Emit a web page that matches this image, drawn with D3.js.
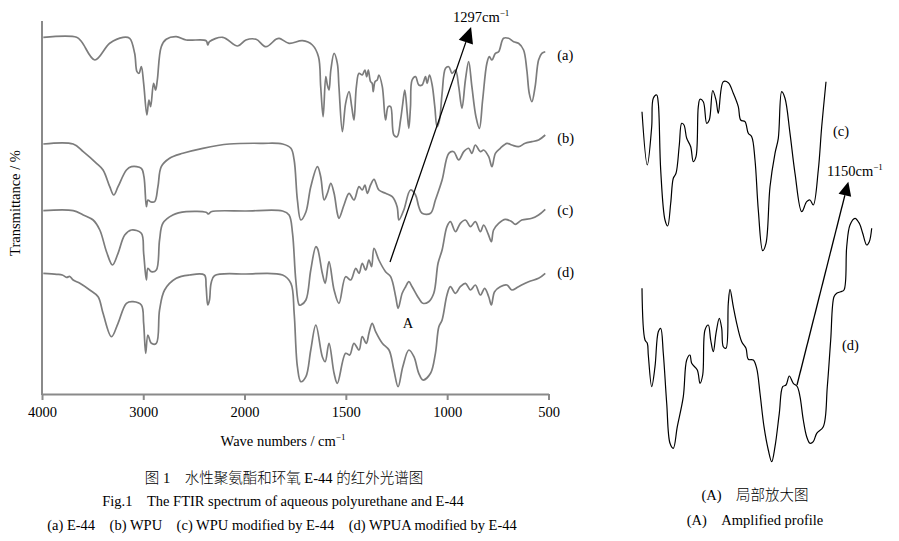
<!DOCTYPE html>
<html><head><meta charset="utf-8">
<script src="https://cdn.jsdelivr.net/npm/d3@7"></script>
<style>
html,body{margin:0;padding:0;background:#fff;}
svg{display:block;}
text{font-family:"Liberation Serif","Times New Roman","Noto Sans CJK SC",serif;fill:#000;white-space:pre;}
.cjk{font-weight:300;}
</style></head><body>
<svg id="chart" width="899" height="541"></svg>
<script>
// ---------- data (wavenumber cm-1, relative transmittance) ----------
const xTicks = [4000, 3000, 2000, 1500, 1000, 500];
const seriesNames = ["(a)", "(b)", "(c)", "(d)"];

const seriesA = [[3987,356.7],[3658,356.7],[3609,352.3],[3478,334],[3331,350.7],[3200,356.7],[3134,355.7],[3085,340.7],[3062,322.3],[3042,320.7],[3019,327.3],[2996,310.7],[2964,279],[2944,294],[2927,287.3],[2898,310.7],[2878,304],[2861,314],[2822,347.3],[2773,354.7],[2674,357.3],[2576,354],[2379,353.3],[2363,349],[2346,352.3],[2215,356.7],[2068,348],[1993,354],[1943,354.7],[1894,347.3],[1845,354.7],[1829,355.7],[1780,350.7],[1714,353.3],[1665,349],[1635,337.3],[1624,307.3],[1612,277.3],[1599,317.3],[1591,309],[1583,304],[1574,324],[1558,340.7],[1542,330.7],[1534,307.3],[1517,262.3],[1501,290.7],[1484,302.3],[1471,287.3],[1460,274],[1448,307.3],[1435,320.7],[1419,319],[1406,324],[1397,317.3],[1389,324],[1378,312.3],[1370,310.7],[1365,302.3],[1356,312.3],[1345,314],[1337,319],[1320,307.3],[1304,274],[1291,287.3],[1279,287.3],[1263,259],[1247,257.3],[1230,274],[1219,290.7],[1209,304],[1197,280.7],[1189,265.7],[1181,287.3],[1173,314],[1156,317.3],[1140,309],[1124,309],[1107,317.3],[1099,310.7],[1087,319],[1074,309],[1061,287.3],[1050,267.3],[1038,274],[1025,300.7],[1008,325.7],[992,327.3],[976,320.7],[959,324],[943,307.3],[927,285.7],[910,314],[894,332.3],[878,307.3],[858,277.3],[841,265.7],[825,294],[804,330.7],[792,337.3],[779,334],[762,340.7],[746,342.3],[722,355.7],[697,355.7],[672,352.3],[648,350.7],[623,344],[607,324],[595,300.7],[582,292.3],[566,307.3],[549,334],[533,340.7],[516,342.3]];

const seriesB = [[3987,250],[3692,250],[3593,242.3],[3462,230.7],[3397,224],[3331,207.3],[3291,199],[3249,207.3],[3166,224],[3117,227.3],[3019,225.7],[2993,217.3],[2969,187.3],[2954,194],[2930,192.3],[2888,192.3],[2855,207.3],[2822,227.3],[2740,235.7],[2609,240.7],[2412,245.7],[2150,250],[1911,250.7],[1812,250],[1771,245.7],[1755,234],[1739,194],[1722,174],[1697,182],[1673,207.3],[1640,227.3],[1624,217.3],[1607,194],[1591,200.7],[1574,210.7],[1558,200.7],[1542,180.7],[1534,175.7],[1509,189],[1484,200.7],[1460,194],[1435,207.3],[1419,204],[1406,209],[1394,200.7],[1378,209],[1361,214.7],[1337,204],[1304,200.7],[1271,197.3],[1247,187.3],[1238,174],[1214,184],[1181,204],[1156,199],[1140,187.3],[1124,180.7],[1082,180.7],[1058,194],[1025,214],[992,240.7],[968,242.3],[943,234],[918,242.3],[894,245.7],[878,240.7],[861,249],[836,242.3],[820,244],[795,237.3],[779,227.3],[762,240.7],[738,245.7],[705,250.7],[681,249],[648,247.3],[615,250.7],[582,252.3],[549,254],[516,259]];

const seriesC = [[3987,183.3],[3692,183.3],[3593,179],[3495,174],[3429,164],[3363,142.3],[3304,129],[3249,140.7],[3183,159],[3117,164],[3019,160.7],[2996,140.7],[2969,114],[2954,125.7],[2920,122.3],[2871,124],[2839,154],[2806,170.7],[2708,179],[2576,182.3],[2379,181.7],[2356,180],[2330,182.3],[1993,183],[1812,183],[1780,179],[1763,160.7],[1747,114],[1730,89],[1722,89],[1697,94],[1673,124],[1648,147.3],[1640,145.7],[1616,120.7],[1602,110.7],[1583,132.3],[1558,104],[1534,90.7],[1501,117.3],[1476,114],[1451,125.7],[1435,120.7],[1419,130.7],[1402,124],[1386,134],[1373,127.3],[1361,145.7],[1337,134],[1304,122.3],[1279,117.3],[1254,97.3],[1242,85.7],[1222,100.7],[1205,107.3],[1189,112.3],[1173,107.3],[1140,95.7],[1120,90.7],[1091,92.3],[1066,100.7],[1045,130.7],[1025,144],[1001,167.3],[984,172.3],[959,162.3],[935,170.7],[910,174],[885,167.3],[861,172.3],[836,162.3],[820,169],[799,160.7],[782,152.3],[771,164],[746,170.7],[713,174.7],[681,172.3],[664,169.7],[632,174],[582,175.7],[549,179],[516,184.7]];

const seriesD = [[3987,120.7],[3855,119.7],[3800,119],[3757,116.7],[3725,117.5],[3692,114],[3626,110.7],[3528,104],[3446,97.3],[3397,80.7],[3314,57.3],[3249,70.7],[3166,90.7],[3101,92.3],[3019,89],[2996,70.7],[2976,40.7],[2954,59],[2920,50.7],[2871,50.7],[2839,84],[2789,104],[2674,115.7],[2543,119],[2396,119],[2379,107.3],[2363,89],[2346,94],[2330,110.7],[2297,118.3],[1993,120],[1812,119],[1771,110.7],[1755,80.7],[1739,27.3],[1722,12.3],[1697,17.3],[1673,44],[1648,69],[1616,37.3],[1602,32.3],[1583,50.7],[1558,20.7],[1542,10.7],[1501,40.7],[1481,39],[1460,50.7],[1435,44],[1419,57.3],[1399,50.7],[1386,60.7],[1370,70.7],[1353,62.3],[1320,50.7],[1287,44],[1263,24],[1242,7.3],[1219,27.3],[1189,44],[1164,37.3],[1140,20.7],[1119,14],[1082,20.7],[1058,40.7],[1041,67.3],[1025,74],[1001,99],[984,107.3],[959,100.7],[935,107.3],[910,110.7],[885,104],[861,109],[836,99],[815,105.7],[795,97.3],[782,89],[766,102.3],[738,107.3],[705,109],[681,104],[648,107.3],[598,112.3],[549,115.7],[516,120.7]];

// amplified profile (region A), relative position / relative transmittance
const insetC = [[0,358.3],[5.3,305],[9.7,343.3],[11.3,371.7],[14.7,375],[16.3,366.7],[18.7,300],[23,250],[25.7,244],[28.7,266.7],[31.3,291.7],[34,296.7],[37.3,325],[39.7,346.7],[42,345],[44.7,331.7],[48.7,323.3],[51.3,308.3],[54,313.3],[56.3,363.3],[58,370.7],[61.3,368.3],[64.7,346.7],[67.3,350],[70.7,379.3],[74,370],[76.3,356.7],[81.3,388.3],[86.3,387.3],[91.3,376.7],[96.3,363.3],[98.7,350],[103,348.3],[106.3,336.7],[109.7,333.3],[113,310],[116.3,260],[120.7,219.3],[124,226.7],[128,283.3],[133,316.7],[136.3,331.7],[139.7,378.3],[143,371.7],[148,336.7],[153,296.7],[159.7,258.3],[164.7,268.3],[168,270],[171.3,265],[176.3,300],[179.7,343.3],[184,388.3]];

const insetD = [[0,181.7],[3,130],[5.3,126.7],[6.3,115],[9.7,83.3],[13,103.3],[16.3,138.3],[18.7,141.7],[21.3,116.7],[24.7,66.7],[28,26.7],[31.3,21.7],[35.3,43.3],[41.3,73.3],[44.7,110],[48,115],[49.7,106.7],[55.3,100],[58,86.7],[60.7,95],[63,140],[66.3,145],[68.7,130],[71.3,118.3],[74,136.7],[77.3,151.7],[79.7,141.7],[81.3,123.3],[84,121.7],[86.3,166.7],[88,180.7],[91.3,163.3],[94.7,146.7],[99.7,128.3],[104,121.7],[106.3,110.7],[111.3,110],[114.7,101.7],[118,76.7],[122,43.3],[126.3,20],[129.7,8.3],[133,23.3],[137.3,56.7],[140.7,83.3],[144,85],[147.3,94],[151.3,86.7],[155.3,83.3],[158,73.3],[161.3,50],[164.7,33.3],[168,26.7],[171.3,28.3],[174.7,36.7],[181.3,43.3],[185.3,83.3],[188.7,130],[192,173.3],[194.7,176.7],[198.7,178.3],[202,180],[204.7,223.3],[208,245],[213,251.7],[217.3,246.7],[220.7,236.7],[224.7,225],[227.3,228.3],[229.7,241.7]];

// annotation anchors
const mainArrow = {from: [1282, 132], to: [882, 367], label: "1297cm", sup: "\u22121"};
const insetArrow = {from: [155, 85], to: [206.3, 288.3], label: "1150cm", sup: "\u22121"};

// ---------- drawing ----------
const svg = d3.select("#chart");
const x = d3.scaleLinear().domain([4000, 2000, 500]).range([42, 244.5, 548.5]);
const y = d3.scaleLinear().domain([0, 372]).range([394, 22]);
const ix = d3.scaleLinear().domain([0, 230]).range([642, 872]);
const iy = d3.scaleLinear().domain([0, 400]).range([470, 70]);

const GRAY = "#7c7c7c";
const FS = 14.5;

// axes
const xAxis = d3.axisBottom(x).tickValues(xTicks).tickSize(6).tickSizeOuter(0).tickPadding(7).tickFormat(d3.format("d"));
const gx = svg.append("g").attr("transform", `translate(0,${y(0)})`).call(xAxis);
gx.select(".domain").attr("stroke", "#8a8a8a").attr("stroke-width", 2);
gx.selectAll(".tick line").attr("stroke", "#8a8a8a").attr("stroke-width", 2);
gx.selectAll(".tick text").attr("font-size", FS).attr("font-family", "Liberation Serif").attr("fill", "#000");

svg.append("line").attr("x1", x(4000)).attr("x2", x(4000)).attr("y1", 21).attr("y2", y(0) + 1)
  .attr("stroke", "#8a8a8a").attr("stroke-width", 2);

// axis titles
const xt = svg.append("text").attr("x", 283).attr("y", 446).attr("text-anchor", "middle").attr("font-size", FS);
xt.append("tspan").text("Wave numbers / cm");
xt.append("tspan").attr("font-size", 9).attr("dy", -6).text("\u22121");

svg.append("text").attr("transform", "translate(20,203) rotate(-90)").attr("text-anchor", "middle")
  .attr("font-size", FS).text("Transmittance / %");

// spectra
const line = d3.line().x(d => x(d[0])).y(d => y(d[1])).curve(d3.curveCatmullRom.alpha(0.5));
const allSeries = [seriesA, seriesB, seriesC, seriesD];
svg.append("g").selectAll("path").data(allSeries).join("path")
  .attr("d", line).attr("fill", "none").attr("stroke", GRAY).attr("stroke-width", 1.7)
  .attr("stroke-linejoin", "round");

const labelDy = [8, 8, 6, 4];
svg.append("g").selectAll("text").data(allSeries).join("text")
  .attr("x", d => x(d[d.length - 1][0]) + 12)
  .attr("y", (d, i) => y(d[d.length - 1][1]) + labelDy[i])
  .attr("font-size", FS).text((d, i) => seriesNames[i]);

// arrow helper
function arrow(p1, p2, L, W) {
  const dx = p2[0] - p1[0], dy = p2[1] - p1[1];
  const len = Math.hypot(dx, dy), ux = dx / len, uy = dy / len;
  const bx = p2[0] - ux * L, by = p2[1] - uy * L;
  svg.append("line").attr("x1", p1[0]).attr("y1", p1[1]).attr("x2", bx).attr("y2", by)
    .attr("stroke", "#000").attr("stroke-width", 1.3);
  svg.append("path").attr("d", d3.line()([[p2[0], p2[1]], [bx - uy * W, by + ux * W], [bx + uy * W, by - ux * W]]) + "Z")
    .attr("fill", "#000");
}
arrow([x(mainArrow.from[0]), y(mainArrow.from[1])], [x(mainArrow.to[0]), y(mainArrow.to[1])], 16, 7.5);
const t1 = svg.append("text").attr("x", 453).attr("y", 22).attr("font-size", FS);
t1.append("tspan").text(mainArrow.label);
t1.append("tspan").attr("font-size", 9).attr("dy", -6).text(mainArrow.sup);

svg.append("text").attr("x", 408).attr("y", 328).attr("text-anchor", "middle").attr("font-size", FS).text("A");

// inset
const iline = d3.line().x(d => ix(d[0])).y(d => iy(d[1])).curve(d3.curveCatmullRom.alpha(0.5));
svg.append("g").selectAll("path").data([insetC, insetD]).join("path")
  .attr("d", iline).attr("fill", "none").attr("stroke", "#000").attr("stroke-width", 1.2)
  .attr("stroke-linejoin", "round");
svg.append("text").attr("x", 833).attr("y", 136).attr("font-size", FS).text("(c)");
svg.append("text").attr("x", 842).attr("y", 350).attr("font-size", FS).text("(d)");
arrow([ix(insetArrow.from[0]), iy(insetArrow.from[1])], [ix(insetArrow.to[0]), iy(insetArrow.to[1])], 14, 6.5);
const t2 = svg.append("text").attr("x", 827).attr("y", 176).attr("font-size", FS);
t2.append("tspan").text(insetArrow.label);
t2.append("tspan").attr("font-size", 9).attr("dy", -6).text(insetArrow.sup);

// captions
const captions = [
  {t: "图 1\u2003水性聚氨酯和环氧 E-44 的红外光谱图", x: 284, y: 483, c: "cjk"},
  {t: "Fig.1\u2003The FTIR spectrum of aqueous polyurethane and E-44", x: 283, y: 506, c: ""},
  {t: "(a) E-44\u2003(b) WPU\u2003(c) WPU modified by E-44\u2003(d) WPUA modified by E-44", x: 282, y: 530, c: ""},
  {t: "(A)\u2003局部放大图", x: 755, y: 500, c: "cjk"},
  {t: "(A)\u2003Amplified profile", x: 755, y: 525, c: ""}
];
svg.append("g").selectAll("text").data(captions).join("text")
  .attr("class", d => d.c)
  .attr("x", d => d.x).attr("y", d => d.y).attr("text-anchor", "middle").attr("font-size", FS)
  .text(d => d.t);
</script>
</body></html>
